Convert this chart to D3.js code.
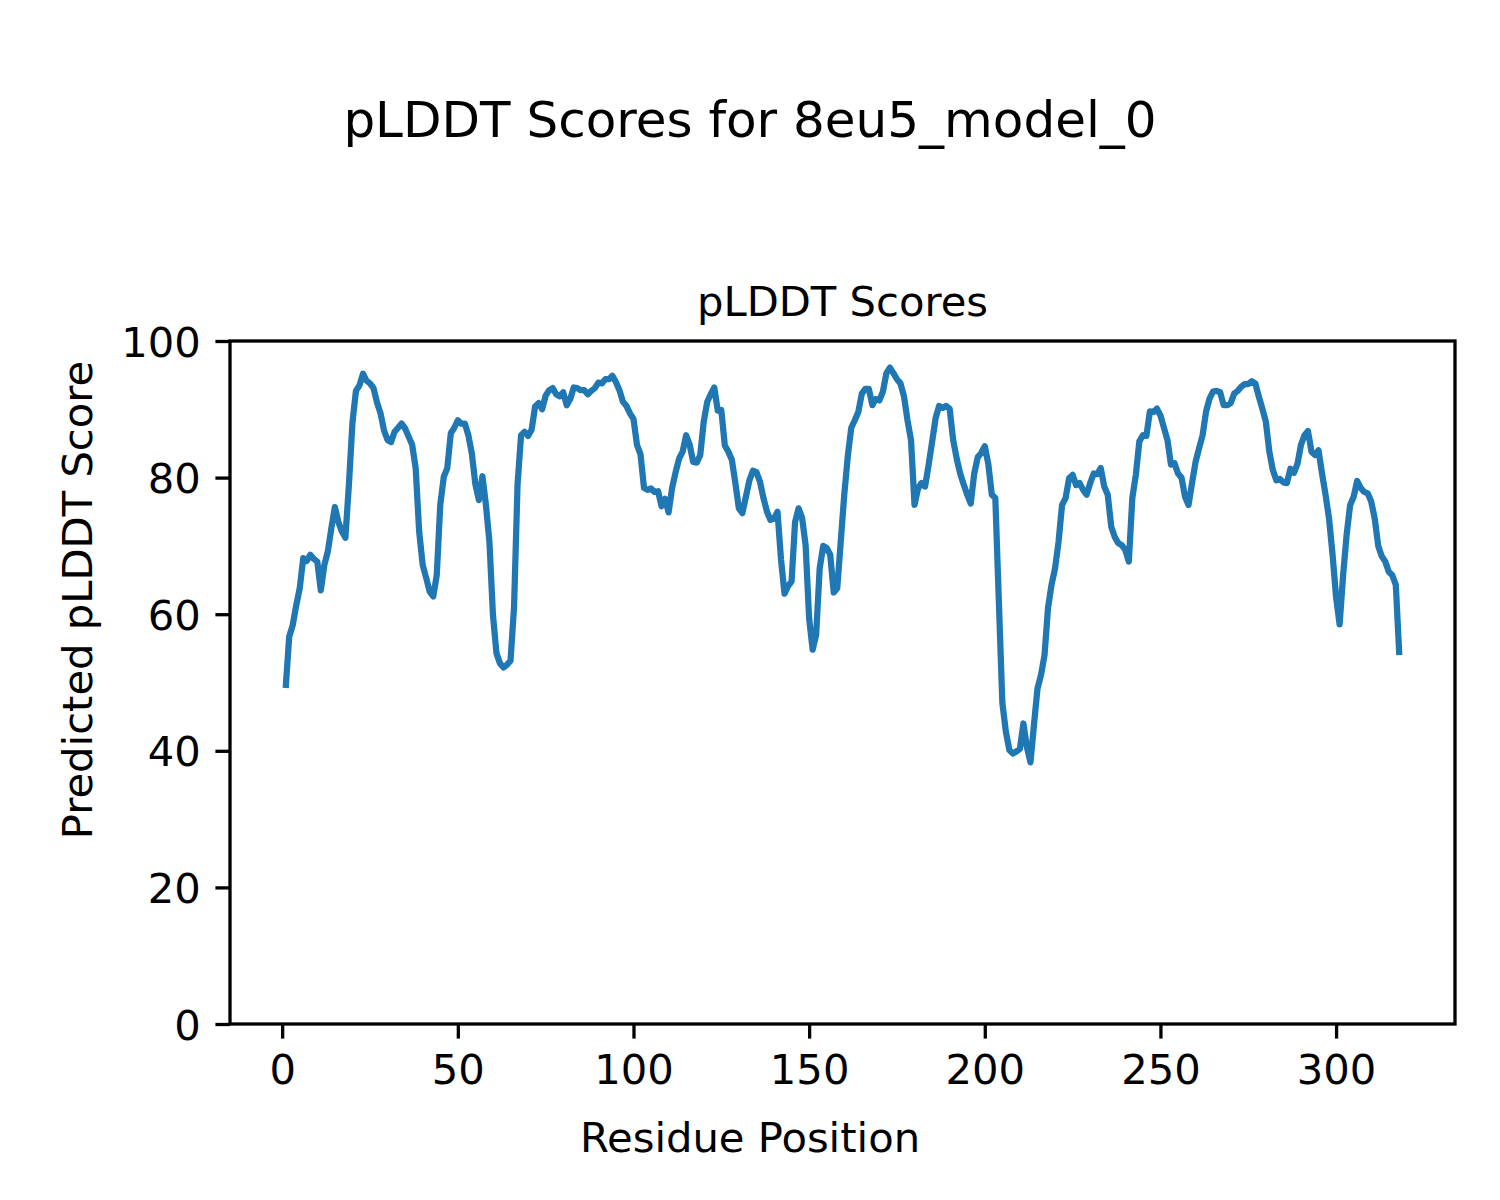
<!DOCTYPE html>
<html>
<head>
<meta charset="utf-8">
<script src="https://cdn.jsdelivr.net/npm/d3@7"></script>
<style>
  html, body { margin: 0; padding: 0; background: #ffffff; }
  svg { display: block; }
  text { font-family: "DejaVu Sans", sans-serif; fill: #000; }
</style>
</head>
<body>
<div id="chart"></div>
<script>
const figTitle = "pLDDT Scores for 8eu5_model_0";
const axTitle = "pLDDT Scores";
const xLabel = "Residue Position";
const yLabel = "Predicted pLDDT Score";
const xTicks = [0, 50, 100, 150, 200, 250, 300];
const yTicks = [0, 20, 40, 60, 80, 100];

// pLDDT per residue (residues 1..318)
const scores = [
  49.2, 56.7, 58.4, 61.3, 63.8, 68.2, 67.8, 68.7, 68.1, 67.7,
  63.5, 67.2, 69.2, 72.6, 75.7, 73.5, 72.1, 71.2, 79.0, 88.0,
  92.7, 93.5, 95.2, 94.2, 93.8, 93.1, 91.0, 89.4, 86.9, 85.5,
  85.2, 86.7, 87.3, 87.9, 87.2, 86.0, 84.8, 81.4, 72.1, 67.2,
  65.3, 63.3, 62.6, 65.7, 76.0, 80.1, 81.4, 86.5, 87.3, 88.4,
  87.9, 87.9, 86.2, 83.5, 79.0, 76.7, 80.2, 76.0, 70.6, 59.9,
  54.3, 52.8, 52.2, 52.6, 53.2, 61.0, 79.0, 86.2, 86.7, 86.1,
  87.0, 90.4, 90.9, 90.0, 92.0, 92.8, 93.1, 92.2, 91.9, 92.5,
  90.6, 91.5, 93.2, 93.1, 92.8, 92.8, 92.2, 92.7, 93.1, 93.9,
  93.8, 94.4, 94.4, 94.9, 94.0, 92.8, 91.1, 90.5, 89.4, 88.6,
  84.8, 83.4, 78.5, 78.2, 78.4, 77.9, 78.0, 75.8, 76.9, 74.9,
  78.5, 80.8, 82.8, 83.8, 86.2, 84.8, 82.3, 82.2, 83.3, 88.2,
  91.1, 92.2, 93.2, 89.8, 89.9, 84.7, 83.8, 82.6, 79.2, 75.5,
  74.8, 77.2, 79.6, 81.0, 80.8, 79.4, 77.0, 75.0, 73.8, 74.0,
  75.0, 68.0, 63.0, 64.1, 64.8, 73.5, 75.5, 74.1, 70.1, 59.4,
  54.8, 57.0, 66.7, 70.0, 69.7, 68.7, 63.2, 63.8, 70.6, 77.5,
  83.1, 87.3, 88.4, 89.6, 92.3, 93.0, 93.0, 90.6, 91.5, 91.3,
  92.6, 95.3, 96.1, 95.3, 94.4, 93.8, 91.9, 88.4, 85.5, 76.0,
  78.4, 79.2, 78.7, 81.8, 85.2, 88.7, 90.5, 90.2, 90.5, 90.1,
  85.5, 82.8, 80.6, 79.0, 77.5, 76.2, 80.6, 83.0, 83.6, 84.6,
  82.0, 77.5, 77.0, 62.0, 47.0, 42.8, 40.1, 39.6, 39.9, 40.3,
  44.0, 40.5, 38.3, 43.8, 49.1, 51.1, 54.0, 60.9, 64.3, 66.7,
  70.6, 76.0, 77.0, 79.9, 80.4, 78.9, 79.2, 78.2, 77.5, 79.2,
  80.6, 80.5, 81.4, 78.7, 77.5, 72.8, 71.3, 70.4, 70.1, 69.4,
  67.7, 77.0, 80.4, 85.3, 86.2, 86.1, 89.7, 89.6, 90.1, 89.1,
  87.3, 85.5, 81.9, 82.1, 80.6, 80.0, 77.2, 76.0, 79.2, 82.3,
  84.3, 86.2, 89.7, 91.6, 92.6, 92.7, 92.5, 90.6, 90.6, 90.9,
  92.3, 92.7, 93.3, 93.7, 93.7, 94.1, 93.8, 91.9, 90.1, 88.2,
  83.8, 81.1, 79.6, 79.8, 79.3, 79.2, 81.3, 80.7, 82.0, 84.8,
  86.2, 86.8, 83.8, 83.3, 84.0, 80.6, 77.5, 74.0, 68.7, 62.5,
  58.5, 65.7, 71.6, 76.0, 77.2, 79.5, 78.5, 77.9, 77.7, 76.5,
  74.0, 70.0, 68.5, 67.7, 66.2, 65.7, 64.3, 54.0
];
const residues = scores.map((_, i) => i + 1);

(function draw() {
  const W = 1500, H = 1200;
  const mL = 230, mR = 1455, mT = 341, mB = 1024;

  const svg = d3.select("#chart").append("svg")
    .attr("width", W).attr("height", H);

  svg.append("rect").attr("width", W).attr("height", H).attr("fill", "#fff");

  const n = residues.length;
  const span = residues[n - 1] - residues[0];
  const x = d3.scaleLinear()
    .domain([residues[0] - 0.05 * span, residues[n - 1] + 0.05 * span])
    .range([mL, mR]);
  const y = d3.scaleLinear().domain([0, 100]).range([mB, mT]);

  const tickLen = 14.6, tickPad = 14.6, fs = 41.7;

  // X axis
  const xAxis = svg.append("g")
    .attr("transform", `translate(0,${mB})`)
    .call(d3.axisBottom(x).tickValues(xTicks).tickSize(tickLen).tickPadding(tickPad).tickFormat(d3.format("d")));
  xAxis.select(".domain").remove();
  xAxis.selectAll(".tick line").attr("stroke", "#000").attr("stroke-width", 3.3);
  xAxis.selectAll(".tick text")
    .attr("font-size", fs)
    .attr("font-family", "DejaVu Sans")
    .attr("fill", "#000")
    .attr("dy", null)
    .attr("y", tickLen + tickPad + 31);

  // Y axis
  const yAxis = svg.append("g")
    .attr("transform", `translate(${mL},0)`)
    .call(d3.axisLeft(y).tickValues(yTicks).tickSize(tickLen).tickPadding(tickPad).tickFormat(d3.format("d")));
  yAxis.select(".domain").remove();
  yAxis.selectAll(".tick line").attr("stroke", "#000").attr("stroke-width", 3.3);
  yAxis.selectAll(".tick text")
    .attr("font-size", fs)
    .attr("font-family", "DejaVu Sans")
    .attr("fill", "#000")
    .attr("dy", "0.36em");

  // Line
  const line = d3.line()
    .x((d, i) => x(residues[i]))
    .y(d => y(d));

  svg.append("path")
    .datum(scores)
    .attr("fill", "none")
    .attr("stroke", "#1f77b4")
    .attr("stroke-width", 6.25)
    .attr("stroke-linejoin", "round")
    .attr("stroke-linecap", "butt")
    .attr("d", line);

  // Frame
  svg.append("rect")
    .attr("x", mL).attr("y", mT)
    .attr("width", mR - mL).attr("height", mB - mT)
    .attr("fill", "none")
    .attr("stroke", "#000")
    .attr("stroke-width", 3.3);

  // Titles and labels
  svg.append("text")
    .attr("x", 750).attr("y", 137)
    .attr("text-anchor", "middle")
    .attr("font-size", 50)
    .text(figTitle);

  svg.append("text")
    .attr("x", (mL + mR) / 2).attr("y", 316)
    .attr("text-anchor", "middle")
    .attr("font-size", fs)
    .text(axTitle);

  svg.append("text")
    .attr("x", 750).attr("y", 1152)
    .attr("text-anchor", "middle")
    .attr("font-size", fs)
    .text(xLabel);

  svg.append("text")
    .attr("transform", "translate(92,600) rotate(-90)")
    .attr("text-anchor", "middle")
    .attr("font-size", fs)
    .text(yLabel);
})();
</script>
</body>
</html>
